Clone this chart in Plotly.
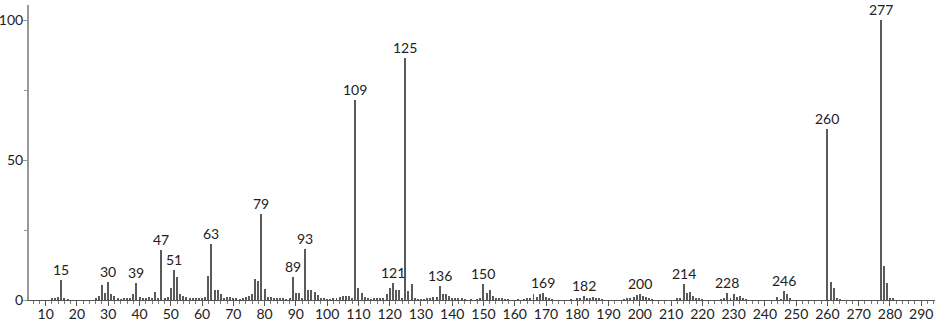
import plotly.graph_objects as go

mz = [12, 13, 14, 15, 16, 17,
      26, 27, 28, 29, 30, 31, 32, 33, 34, 35, 36, 37, 38, 39, 40, 41, 42, 43, 44, 45, 46, 47, 48, 49,
      50, 51, 52, 53, 54, 55, 56, 57, 58, 59, 60, 61, 62, 63, 64, 65, 66, 67, 68, 69,
      70, 71, 72, 73, 74, 75, 76, 77, 78, 79, 80, 81, 82, 83, 84, 85, 86, 87, 88, 89,
      90, 91, 92, 93, 94, 95, 96, 97, 98, 99, 100, 101, 102, 103, 104, 105, 106, 107, 108, 109,
      110, 111, 112, 113, 114, 115, 116, 117, 118, 119, 120, 121, 122, 123, 124, 125, 126, 127, 128, 129,
      130, 131, 132, 133, 134, 135, 136, 137, 138, 139, 140, 141, 142, 143, 144, 146, 148, 149,
      150, 151, 152, 153, 154, 155, 156, 157, 158, 161, 163, 164, 165, 166, 167, 168, 169,
      170, 171, 172, 178, 180, 181, 182, 183, 184, 185, 186, 187, 188,
      195, 196, 197, 198, 199, 200, 201, 202, 203, 204,
      212, 213, 214, 215, 216, 217, 218, 219, 220,
      226, 227, 228, 229, 230, 231, 232, 233, 234,
      244, 245, 246, 247, 248,
      260, 261, 262, 263, 264,
      277, 278, 279, 280, 281]

intensity = [0.4, 0.6, 1.0, 7.0, 0.6, 0.3,
             0.6, 1.6, 5.4, 2.4, 6.3, 2.2, 1.3, 0.5, 0.3, 0.4, 0.4, 0.6, 2.1, 6.2, 1.1, 0.7, 0.7, 1.0, 0.5, 2.9, 0.4, 17.7, 0.4, 1.0,
             4.2, 10.6, 8.1, 2.2, 1.5, 1.0, 0.5, 0.7, 0.6, 0.6, 0.4, 1.0, 8.6, 20.0, 3.6, 3.6, 2.2, 0.7, 1.0, 1.0,
             0.5, 0.4, 0.3, 0.5, 1.0, 1.3, 2.2, 7.5, 6.9, 30.7, 4.1, 1.2, 1.0, 0.5, 0.5, 0.5, 0.5, 0.3, 0.6, 8.2,
             2.4, 2.4, 0.4, 18.3, 3.6, 3.4, 3.0, 1.8, 0.8, 0.4, 0.3, 0.3, 0.4, 0.6, 1.0, 1.3, 1.6, 1.5, 0.7, 71.4,
             4.3, 2.5, 1.2, 0.5, 0.3, 0.5, 0.5, 0.6, 0.8, 2.0, 4.3, 6.1, 3.7, 3.5, 0.6, 86.4, 3.3, 5.6, 0.5, 0.3,
             0.3, 0.3, 0.5, 0.8, 1.2, 1.2, 5.1, 2.3, 2.3, 1.5, 0.8, 0.5, 0.5, 0.4, 0.3, 0.3, 0.3, 0.6,
             5.8, 2.6, 3.6, 1.4, 0.6, 0.5, 0.5, 0.3, 0.3, 0.3, 0.3, 0.4, 0.8, 2.1, 1.2, 2.1, 2.6,
             1.0, 0.5, 0.3, 0.3, 0.5, 0.8, 1.5, 0.6, 0.8, 1.1, 0.8, 0.5, 0.3,
             0.3, 0.5, 0.8, 1.1, 1.8, 2.2, 1.5, 1.0, 0.8, 0.3,
             0.4, 0.8, 5.8, 2.6, 2.7, 1.5, 0.8, 0.5, 0.3,
             0.3, 0.5, 2.6, 0.6, 2.0, 1.2, 1.5, 0.8, 0.3,
             1.1, 0.3, 3.3, 2.0, 0.6,
             61.1, 6.4, 4.2, 0.8, 0.3,
             100.0, 12.0, 5.9, 0.8, 0.6]

labeled = [15, 30, 39, 47, 51, 63, 79, 89, 93, 109, 121, 125, 136, 150, 169, 182, 200, 214, 228, 246, 260, 277]

x_ticks = list(range(10, 300, 10))
y_ticks = [0, 50, 100]

FONT = "Lato"

fig = go.Figure()
fig.add_trace(go.Bar(x=mz, y=intensity, width=0.32,
                     marker=dict(color="#5a5a5a", line=dict(width=0))))

lookup = dict(zip(mz, intensity))
for m in labeled:
    fig.add_annotation(x=m, y=lookup[m], text=str(m), showarrow=False,
                       yanchor="bottom", yshift=0,
                       font=dict(family=FONT, size=14, color="#222222"))

fig.update_layout(
    width=940, height=322,
    margin=dict(l=29, r=5, t=5, b=22, autoexpand=False),
    paper_bgcolor="white", plot_bgcolor="white",
    showlegend=False, bargap=0,
    font=dict(family=FONT, size=14, color="#222222"),
)
fig.update_xaxes(range=[4.66, 294.4], tickvals=x_ticks, ticktext=[str(v) for v in x_ticks],
                 automargin=False, ticklabelstandoff=-4,
                 showgrid=False, zeroline=False, showline=True, linecolor="#555555", linewidth=1,
                 ticks="outside", ticklen=5, tickcolor="#555555", tickwidth=1,
                 minor=dict(dtick=2, tick0=0, ticks="outside", ticklen=3, tickcolor="#777777", showgrid=False),
                 tickfont=dict(family=FONT, size=14, color="#222222"))
fig.update_yaxes(range=[0, 105.4], tickvals=y_ticks, ticktext=[str(v) for v in y_ticks],
                 automargin=False, ticklabelstandoff=-3,
                 showgrid=False, zeroline=False, showline=True, linecolor="#999999", linewidth=2,
                 ticks="outside", ticklen=4, tickcolor="#999999", tickwidth=1,
                 minor=dict(tickvals=[25, 75], ticks="outside", ticklen=3, tickcolor="#999999", showgrid=False),
                 tickfont=dict(family=FONT, size=14, color="#222222"))

fig.write_html("out.html")
